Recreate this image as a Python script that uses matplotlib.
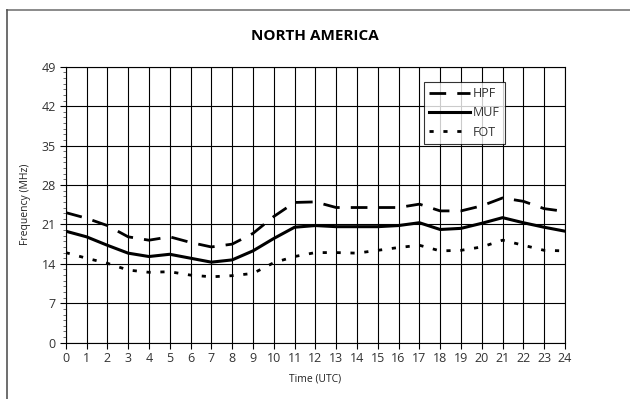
import matplotlib
matplotlib.use("Agg")
import matplotlib.pyplot as plt
from matplotlib.lines import Line2D

hours = list(range(25))
hpf = [23.1, 22.1, 20.8, 18.8, 18.2, 18.8, 17.8, 17.0, 17.5, 19.4, 22.4, 24.9, 25.0,
       24.0, 24.0, 24.0, 24.0, 24.6, 23.4, 23.4, 24.3, 25.7, 25.1, 23.8, 23.3]
muf = [19.8, 18.8, 17.3, 15.9, 15.3, 15.7, 15.0, 14.3, 14.7, 16.3, 18.5, 20.5, 20.8,
       20.6, 20.6, 20.6, 20.8, 21.3, 20.1, 20.3, 21.2, 22.2, 21.3, 20.5, 19.8]
fot = [16.0, 15.0, 14.1, 12.9, 12.5, 12.6, 12.0, 11.7, 11.9, 12.3, 14.2, 15.3, 16.0,
       16.0, 15.9, 16.4, 16.9, 17.3, 16.3, 16.4, 17.0, 18.2, 17.3, 16.4, 16.3]
yticks = [0, 7, 14, 21, 28, 35, 42, 49]

plt.rcParams['font.family'] = ['Open Sans', 'DejaVu Sans']

fig = plt.figure(figsize=(6.3, 3.99), dpi=100)
ax = fig.add_axes([0.1043, 0.1411, 0.7925, 0.6917])

ax.plot(hours, hpf, color='black', lw=2.0, dashes=(6, 4), label='HPF')
ax.plot(hours, muf, color='black', lw=2.2, label='MUF')
ax.plot(hours, fot, color='black', lw=2.0, dashes=(1.5, 3.5), label='FOT')

ax.set_xlim(0, 24)
ax.set_ylim(0, 49)
ax.set_xticks(hours)
ax.set_yticks(yticks)
ax.set_yticks(range(0, 50), minor=True)
ax.tick_params(axis='y', which='minor', length=2, width=0.6, color='#555555')
ax.tick_params(axis='both', which='major', length=4, width=0.8, labelsize=9,
               labelcolor='#333333', pad=3)
ax.tick_params(axis='x', which='minor', bottom=False)
ax.grid(True, which='major', color='black', lw=0.8)
for s in ax.spines.values():
    s.set_color('black')
    s.set_linewidth(0.8)

ax.set_xlabel('Time (UTC)', fontsize=7.5, color='#222222', labelpad=6)
ax.set_ylabel('Frequency (MHz)', fontsize=7.5, color='#222222', labelpad=8)
ax.set_title('NORTH AMERICA', fontsize=11, fontweight='bold', pad=19)

leg = ax.legend(loc='upper left', bbox_to_anchor=(0.718, 0.944), fontsize=9,
                frameon=True, fancybox=False, handlelength=3.3, handletextpad=0.2,
                borderpad=0.4, labelspacing=0.5, borderaxespad=0)
leg.get_frame().set_edgecolor('black')
leg.get_frame().set_linewidth(0.8)
for t in leg.get_texts():
    t.set_color('#333333')

fig.add_artist(Line2D([7/630, 1], [1-10/399, 1-10/399], color='#777777', lw=1.2,
                      transform=fig.transFigure))
fig.add_artist(Line2D([7/630, 7/630], [0, 1-10/399], color='#555555', lw=1.2,
                      transform=fig.transFigure))

fig.savefig('out.png', dpi=100)
